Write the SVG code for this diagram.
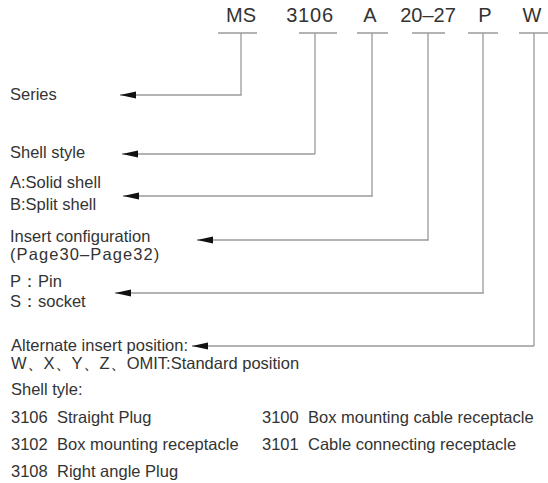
<svg xmlns="http://www.w3.org/2000/svg" width="548" height="483" viewBox="0 0 548 483">
<style>
text{font-family:"Liberation Sans",Arial,sans-serif;fill:#333;}
.top{font-size:20px;text-anchor:middle;}
.lbl{font-size:16.5px;}
.ln{fill:none;stroke:#9a9a9a;stroke-width:1.5;}
.tee{fill:none;stroke:#9a9a9a;stroke-width:1.3;}
</style>
<defs>
<marker id="ah" markerWidth="16" markerHeight="8" refX="16" refY="4" orient="auto" markerUnits="userSpaceOnUse">
<path d="M16,4 L0,0.6 L0,7.4 Z" fill="#111"/>
</marker>
</defs>
<rect width="548" height="483" fill="#fff"/>
<g id="code">
<g id="c-ms"><text class="top" x="241" y="22">MS</text><path class="tee" d="M218,33 H257 M241,33 V94"/></g>
<g id="c-3106"><text class="top" x="310" y="22" letter-spacing="0.8">3106</text><path class="tee" d="M299,33 H337 M315,33 V154"/></g>
<g id="c-a"><text class="top" x="370" y="22">A</text><path class="tee" d="M357,33 H388 M372,33 V195"/></g>
<g id="c-2027"><text class="top" x="428" y="22">20–27</text><path class="tee" d="M412,33 H445 M428,33 V239"/></g>
<g id="c-p"><text class="top" x="485" y="22">P</text><path class="tee" d="M468,33 H498 M483,33 V292"/></g>
<g id="c-w"><text class="top" x="532" y="22">W</text><path class="tee" d="M519,33 H548 M534,33 V346"/></g>
</g>
<g id="connectors">
<path class="ln" d="M241,94 V95 H120" marker-end="url(#ah)"/>
<path class="ln" d="M315,154 H122" marker-end="url(#ah)"/>
<path class="ln" d="M372,195 V196 H123" marker-end="url(#ah)"/>
<path class="ln" d="M428,239 V240 H197" marker-end="url(#ah)"/>
<path class="ln" d="M483,292 V293 H115" marker-end="url(#ah)"/>
<path class="ln" d="M534,346 H192" marker-end="url(#ah)"/>
</g>
<g id="series"><text class="lbl" x="10" y="100">Series</text></g>
<g id="shell-style"><text class="lbl" x="10" y="158">Shell style</text></g>
<g id="shell-ab"><text class="lbl" x="10" y="188">A:Solid shell</text><text class="lbl" x="10" y="210">B:Split shell</text></g>
<g id="insert"><text class="lbl" x="10" y="242">Insert configuration</text><text class="lbl" x="10" y="260" letter-spacing="1.1">(Page30–Page32)</text></g>
<g id="contact"><text class="lbl" x="10" y="287">P：Pin</text><text class="lbl" x="10" y="307">S：socket</text></g>
<g id="alt"><text class="lbl" x="11" y="351">Alternate insert position:</text><text class="lbl" x="11" y="369">W、X、Y、Z、OMIT:Standard position</text></g>
<g id="legend">
<text class="lbl" x="11" y="395">Shell tyle:</text>
<text class="lbl" x="11" y="423">3106</text><text class="lbl" x="57" y="423">Straight Plug</text>
<text class="lbl" x="11" y="450">3102</text><text class="lbl" x="57" y="450">Box mounting receptacle</text>
<text class="lbl" x="11" y="477">3108</text><text class="lbl" x="57" y="477">Right angle Plug</text>
<text class="lbl" x="262" y="423">3100</text><text class="lbl" x="308" y="423">Box mounting cable receptacle</text>
<text class="lbl" x="262" y="450">3101</text><text class="lbl" x="308" y="450">Cable connecting receptacle</text>
</g>
</svg>
